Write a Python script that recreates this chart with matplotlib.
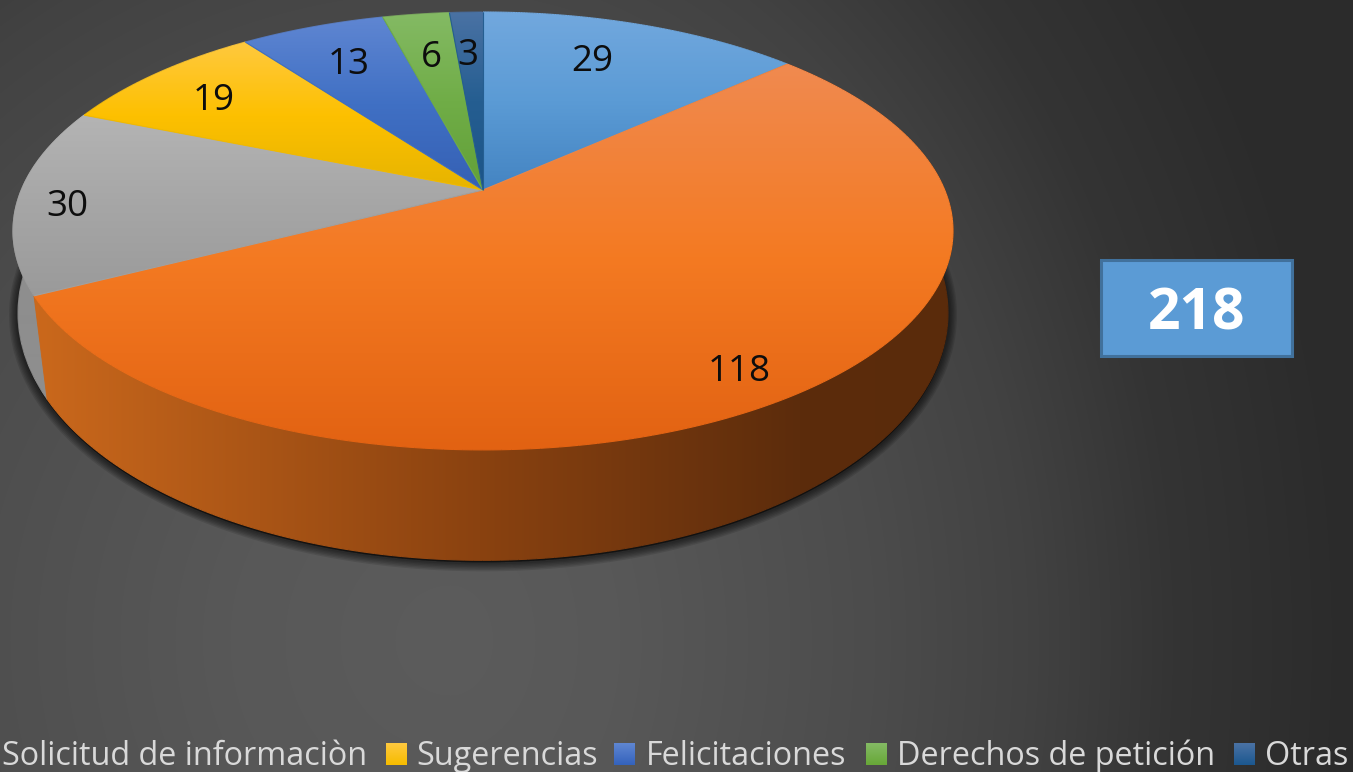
import numpy as np
import matplotlib
matplotlib.use("Agg")
import matplotlib.pyplot as plt
from matplotlib.collections import LineCollection
from matplotlib.colors import to_rgb
from matplotlib.patches import Polygon, Rectangle
from matplotlib.path import Path
from matplotlib.patches import PathPatch

W, H = 1353, 772

# datos, en sentido horario desde arriba
values = [29, 118, 30, 19, 13, 6, 3]
total_label = "218"
legend_names = ["Solicitud de informaciòn", "Sugerencias", "Felicitaciones", "Derechos de petición", "Otras"]

# colores de la cara superior: claro arriba, medio, oscuro abajo (por rebanada)
top_colors = [
    ["#72a8de", "#5b9bd5", "#4484c2"],
    ["#f08a50", "#f47a22", "#e26212"],
    ["#b4b4b4", "#a6a6a6", "#9a9a9a"],
    ["#ffc93f", "#fdc000", "#e6b400"],
    ["#5f86d2", "#4070c4", "#3560b4"],
    ["#84ba64", "#70ad47", "#62a038"],
    ["#4a72a4", "#255e91", "#1c5488"],
]
wall_colors = {
    1: ["#ca681c", "#8a4210", "#5c2c0c", "#5a2b0b"],
    2: ["#8e8e8e", "#8e8e8e", "#8e8e8e", "#8e8e8e"],
}
legend_colors = [None, ["#ffc93f", "#f6bc00"], ["#5f86d2", "#3463bc"], ["#84ba64", "#68a838"], ["#4a72a4", "#1c5890"]]

# posiciones en pixeles
label_xy = [(592, 62), (739, 372), (67, 207), (214, 101), (349, 65), (431, 58), (468, 56)]
legend_text_x = [2, 416, 646, 897, 1265]
legend_box_x = [None, 386, 614, 866, 1234]


def rim(theta, y0, a, b, k):
    # proyeccion en perspectiva de un punto del circulo del pastel
    u, v = np.sin(theta), np.cos(theta)
    s = 1 + k * v
    return 483 + a * u / s, y0 - b * v / s


def top_rim(theta):
    return rim(theta, 190, 461.7, 211.3, 0.187)


def bottom_rim(theta):
    return rim(theta, 281, 461.0, 243.0, 0.13)


def ramp(colors, pos, grid):
    rgb = np.array([to_rgb(c) for c in colors])
    return np.stack([np.interp(grid, pos, rgb[:, i]) for i in range(3)], axis=-1)


def fill_gradient(ax, poly, colors, pos, z, vertical=True):
    # degradado recortado al poligono, con borde del mismo color para suavizar
    if vertical:
        img = ramp(colors, pos, np.arange(H) + 0.5)[:, None, :]
    else:
        img = ramp(colors, pos, np.arange(W) + 0.5)[None, :, :]
    patch = PathPatch(Path(np.vstack([poly, poly[0]])), fc="none", ec="none", zorder=z)
    ax.add_patch(patch)
    im = ax.imshow(img, extent=(0, W, H, 0), aspect="auto", interpolation="bilinear", zorder=z)
    im.set_clip_path(patch)
    pts = np.vstack([poly, poly[0]])
    segs = np.stack([pts[:-1], pts[1:]], axis=1)
    mids = segs.mean(axis=1)
    cols = ramp(colors, pos, mids[:, 1] if vertical else mids[:, 0])
    ax.add_collection(LineCollection(segs, colors=cols, linewidths=0.8, zorder=z))


fig = plt.figure(figsize=(W / 100, H / 100), dpi=100)
ax = fig.add_axes([0, 0, 1, 1])

# fondo radial
yy, xx = np.mgrid[0:H, 0:W]
dx = (xx - 450) / np.where(xx < 450, 1100, 850)
dist = np.hypot(dx, (yy - 640) / 1100)
bg = np.interp(dist, [0, 0.2, 0.5, 0.68, 0.85, 1.06], [0x5c, 0x58, 0x4c, 0x42, 0x34, 0x2b]) / 255
ax.imshow(np.dstack([bg, bg, bg]), extent=(0, W, H, 0), aspect="auto", interpolation="bilinear", zorder=0)

# sombra
t = np.linspace(0, 2 * np.pi, 400)
bx, by = bottom_rim(t)
for lw in [13, 11, 9, 7, 5, 3]:
    ax.add_patch(Polygon(np.column_stack([bx, by + 2]), fc="black", ec="black", lw=lw, alpha=0.11,
                         joinstyle="round", zorder=1))

# paredes y cara superior
edges = np.concatenate([[0], np.cumsum(values)]) / sum(values) * 2 * np.pi
z = 2
for i in [2, 1]:
    t = np.linspace(edges[i], edges[i + 1], 200)
    tx, ty = top_rim(t)
    bx, by = bottom_rim(t)
    poly = np.vstack([np.column_stack([tx, ty]), np.column_stack([bx, by])[::-1]])
    fill_gradient(ax, poly, wall_colors[i], [40, 480, 800, 950], z, vertical=False)
    z += 1

for i in range(len(values)):
    t = np.linspace(edges[i], edges[i + 1], 200)
    tx, ty = top_rim(t)
    poly = np.vstack([[483, 190], np.column_stack([tx, ty])])
    y0, y1 = poly[:, 1].min(), poly[:, 1].max()
    fill_gradient(ax, poly, top_colors[i], [y0, (y0 + y1) / 2, y1], z)
    z += 1

for val, (x, y) in zip(values, label_xy):
    ax.text(x, y, str(val), fontsize=26.5, family="Open Sans", color="#0d0d0d", ha="center", va="center", zorder=20)

# caja con el total
ax.add_patch(Rectangle((1101, 260), 191, 96, fc="#5b9bd5", ec="#41719c", lw=2.2, zorder=20))
ax.text(1197, 315, total_label, fontsize=41, family="Open Sans", weight="bold", color="white",
        ha="center", va="center", zorder=21)

# leyenda
for name, tx, bx0, cols in zip(legend_names, legend_text_x, legend_box_x, legend_colors):
    ax.text(tx, 765, name, fontsize=23.3, family="Open Sans", color="#d9d9d9", ha="left", va="baseline", zorder=20)
    if bx0 is not None:
        ax.imshow(ramp(cols, [0, 1], np.linspace(0, 1, 22))[:, None, :], extent=(bx0, bx0 + 21, 765, 743),
                  aspect="auto", interpolation="bilinear", zorder=20)

ax.set_xlim(0, W)
ax.set_ylim(H, 0)
ax.axis("off")
fig.savefig("out.png", dpi=100)
